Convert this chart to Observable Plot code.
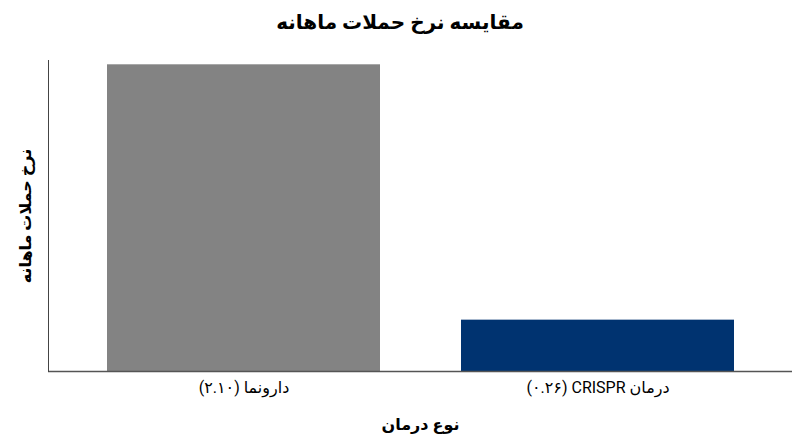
<!DOCTYPE html>
<html>
<head>
<meta charset="utf-8">
<script src="https://cdn.jsdelivr.net/npm/d3@7"></script>
<script src="https://cdn.jsdelivr.net/npm/@observablehq/plot@0.6"></script>
<style>
  html, body { margin: 0; padding: 0; background: #fff; }
  #wrap { width: 800px; height: 447px; position: relative; font-family: Roboto, "DejaVu Sans", sans-serif; }
  #title { height: 44px; line-height: 44px; text-align: center; font-size: 20px; font-weight: bold; color: #000; direction: rtl; }
</style>
</head>
<body>
<div id="wrap">
  <div id="title"></div>
  <div id="chart"></div>
</div>
<script>
const titleText = "مقایسه نرخ حملات ماهانه";
const xLabel = "نوع درمان";
const yLabel = "نرخ حملات ماهانه";
const categories = ["دارونما \u200F(۲.۱۰)", "درمان CRISPR \u200F(۰.۲۶)"];
const values = [2.10, 0.26];
const colors = ["#838383", "#003370"];
const yDomain = [-0.11, 2.131];

document.getElementById("title").textContent = titleText;

const data = categories.map((c, i) => ({category: c, value: values[i], color: colors[i]}));

const chart = Plot.plot({
  width: 800,
  height: 403,
  marginTop: 16,
  marginBottom: 76,
  marginLeft: 48,
  marginRight: 8,
  style: {fontFamily: 'Roboto, "DejaVu Sans", sans-serif', direction: "rtl", background: "#fff", color: "#000"},
  x: {domain: categories, paddingInner: 0.229, paddingOuter: 0.165},
  y: {domain: yDomain},
  marks: [
    Plot.barY(data, {x: "category", y1: yDomain[0], y2: "value", fill: "color"}),
    Plot.ruleY([yDomain[0]], {stroke: "#555", strokeWidth: 1.5}),
    Plot.frame({anchor: "left", stroke: "#444", strokeWidth: 1}),
    Plot.axisX({tickSize: 0, tickPadding: 10, fontSize: 16, label: null}),
    Plot.axisX({ticks: [], tickSize: 0, fontSize: 16, fontWeight: "bold", label: xLabel, labelAnchor: "center", labelOffset: 58, labelArrow: "none"}),
    Plot.axisY({ticks: [], tickSize: 0, fontSize: 16, fontWeight: "bold", label: yLabel, labelAnchor: "center", labelOffset: 29, labelArrow: "none"})
  ]
});
document.getElementById("chart").appendChild(chart);
</script>
</body>
</html>
